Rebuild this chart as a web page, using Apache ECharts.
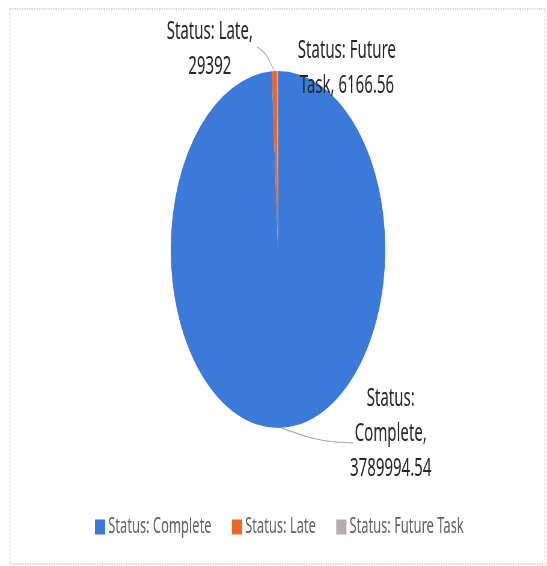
<!DOCTYPE html>
<html>
<head>
<meta charset="utf-8">
<style>
  html, body { margin: 0; padding: 0; background: #fff; overflow: hidden; }
  #wrap { width: 547px; height: 566px; overflow: hidden; position: relative; }
  /* the chart is laid out wide and then condensed horizontally */
  #chart { width: 910px; height: 566px; transform: scaleX(0.6011); transform-origin: 0 0; }
</style>
<script src="https://cdn.jsdelivr.net/npm/echarts@6/dist/echarts.min.js"></script>
</head>
<body>
<div id="wrap"><div id="chart"></div></div>
<script>
// Task hours by status
const categories = ['Status: Complete', 'Status: Late', 'Status: Future Task'];
const values = [3789994.54, 29392, 6166.56];
const colors = ['#3b7ad9', '#e8682c', '#b8a8b8'];

// Wrap "name, value" on word boundaries, at most 14 characters per line
function wrapLabel(name, value) {
  const words = (name + ', ' + value).split(' ');
  const lines = [];
  let cur = '';
  words.forEach(w => {
    if (cur && (cur + ' ' + w).length > 14) { lines.push(cur); cur = w; }
    else { cur = cur ? cur + ' ' + w : w; }
  });
  if (cur) lines.push(cur);
  return lines.join('\n');
}

// Label anchor placement (chart pixels, before the horizontal condensing)
const labelSpots = [
  { x: 650, y: 434, line: [[530, 441], [588, 443]] },
  { x: 349, y: 49, line: [[442, 53], [428, 47]] },
  { x: 577, y: 68, line: null }
];

const chart = echarts.init(document.getElementById('chart'), null, { renderer: 'canvas' });

const data = categories.map((c, i) => ({
  name: c,
  value: values[i],
  itemStyle: { color: colors[i] },
  labelLine: { show: i !== 2 }
}));

chart.setOption({
  animation: false,
  backgroundColor: '#ffffff',
  graphic: [{
    type: 'rect',
    shape: { x: 16.6, y: 9, width: 890, height: 555 },
    style: { fill: 'none', stroke: '#c4c4c4', lineWidth: 1.4, lineDash: [2, 2] },
    silent: true
  }],
  legend: {
    data: categories,
    left: 153,
    top: 511,
    itemWidth: 17,
    itemHeight: 15,
    itemGap: 34,
    itemTextGap: 5,
    icon: 'rect',
    textStyle: { fontFamily: 'Noto Sans', fontSize: 21.5, color: '#5f5f5f' }
  },
  series: [{
    type: 'pie',
    center: [462.5, 249.5],
    radius: 178.5,
    startAngle: 90,
    clockwise: true,
    avoidLabelOverlap: false,
    data: data,
    itemStyle: { borderWidth: 0 },
    label: {
      show: true,
      position: 'outside',
      fontFamily: 'Noto Sans',
      fontSize: 25,
      lineHeight: 35,
      color: '#262626',
      align: 'center',
      formatter: p => wrapLabel(p.name, p.value)
    },
    labelLine: {
      show: true,
      smooth: 0.3,
      lineStyle: { color: '#a8a8a8', width: 1.2 }
    },
    labelLayout: function (params) {
      const s = labelSpots[params.dataIndex];
      const out = { x: s.x, y: s.y, align: 'center', verticalAlign: 'middle' };
      if (s.line && params.labelLinePoints) {
        out.labelLinePoints = [params.labelLinePoints[0], s.line[0], s.line[1]];
      }
      return out;
    },
    emphasis: { disabled: true }
  }]
});
</script>
</body>
</html>
